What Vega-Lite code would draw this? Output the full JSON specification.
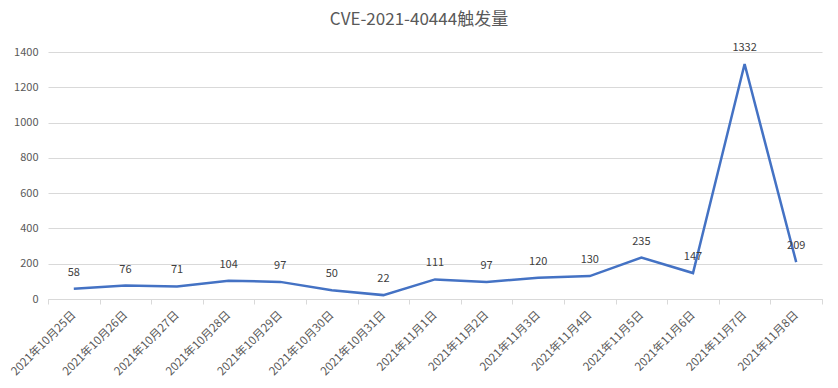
{
  "$schema": "https://vega.github.io/schema/vega-lite/v6.json",
  "width": 774,
  "height": 247,
  "autosize": {"type": "none"},
  "padding": {"left": 48, "top": 52, "right": 16, "bottom": 89},
  "background": "#ffffff",
  "title": {
    "text": "CVE-2021-40444触发量",
    "anchor": "middle",
    "dx": -16,
    "offset": 13,
    "font": "Noto Sans CJK SC",
    "fontSize": 17,
    "fontWeight": "normal",
    "color": "#595959"
  },
  "config": {
    "view": {"stroke": null},
    "font": "Noto Sans CJK SC"
  },
  "data": {
    "values": [
      {"date": "2021年10月25日", "count": 58},
      {"date": "2021年10月26日", "count": 76},
      {"date": "2021年10月27日", "count": 71},
      {"date": "2021年10月28日", "count": 104},
      {"date": "2021年10月29日", "count": 97},
      {"date": "2021年10月30日", "count": 50},
      {"date": "2021年10月31日", "count": 22},
      {"date": "2021年11月1日", "count": 111},
      {"date": "2021年11月2日", "count": 97},
      {"date": "2021年11月3日", "count": 120},
      {"date": "2021年11月4日", "count": 130},
      {"date": "2021年11月5日", "count": 235},
      {"date": "2021年11月6日", "count": 147},
      {"date": "2021年11月7日", "count": 1332},
      {"date": "2021年11月8日", "count": 209}
    ]
  },
  "encoding": {
    "x": {
      "field": "date",
      "type": "ordinal",
      "sort": null,
      "scale": {"type": "band", "paddingInner": 0, "paddingOuter": 0},
      "axis": {
        "title": null,
        "labelAngle": -45,
        "labelAlign": "right",
        "labelBaseline": "middle",
        "labelPadding": 9,
        "labelFontSize": 11.5,
        "labelColor": "#595959",
        "domainColor": "#d9d9d9",
        "tickColor": "#d9d9d9",
        "tickSize": 5,
        "tickBand": "extent",
        "grid": false
      }
    },
    "y": {
      "field": "count",
      "type": "quantitative",
      "scale": {"domain": [0, 1400]},
      "axis": {
        "title": null,
        "format": "d",
        "values": [0, 200, 400, 600, 800, 1000, 1200, 1400],
        "domain": false,
        "ticks": false,
        "labelPadding": 10,
        "labelFontSize": 11,
        "labelColor": "#595959",
        "gridColor": "#d9d9d9",
        "gridWidth": 1
      }
    }
  },
  "layer": [
    {
      "mark": {"type": "line", "color": "#4472C4", "strokeWidth": 2.5}
    },
    {
      "mark": {"type": "text", "dy": -16, "fontSize": 11, "color": "#404040"},
      "encoding": {"text": {"field": "count", "type": "quantitative"}}
    }
  ]
}
